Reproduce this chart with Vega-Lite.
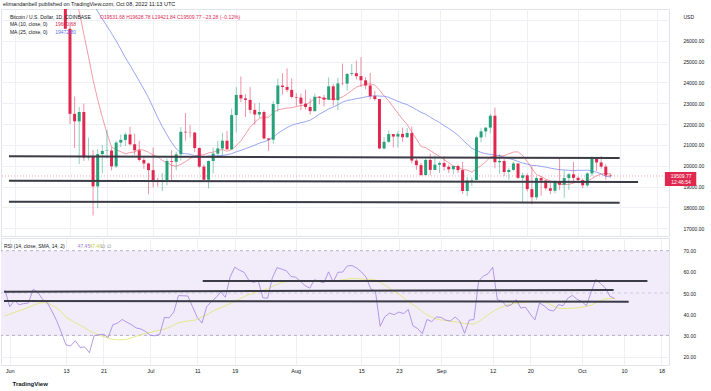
{
"$schema": "https://vega.github.io/schema/vega-lite/v6.json",
"padding": {"left": 0, "top": 1, "right": 0, "bottom": 0},
"background": "white",
"title": {"text": "elimandanbell published on TradingView.com, Oct 08, 2022 11:13 UTC", "anchor": "start", "frame": "bounds", "fontSize": 5.5, "fontWeight": "normal", "color": "#131722", "offset": 1.5, "dx": 3},
"spacing": 0,
"datasets": {
"candles": [
{"t":"2022-05-31","o":31720,"h":32400,"l":31200,"c":31800,"r":51.4,"rm":39.2},
{"t":"2022-06-01","o":31800,"h":31970,"l":29300,"c":29800,"r":43.5,"rm":40.0},
{"t":"2022-06-02","o":29800,"h":30640,"l":29580,"c":30440,"r":46.5,"rm":40.8},
{"t":"2022-06-03","o":30440,"h":30670,"l":29280,"c":29700,"r":44.5,"rm":41.6},
{"t":"2022-06-04","o":29700,"h":29950,"l":29480,"c":29860,"r":45.0,"rm":42.4},
{"t":"2022-06-05","o":29860,"h":30150,"l":29500,"c":29900,"r":45.3,"rm":43.2},
{"t":"2022-06-06","o":29900,"h":31750,"l":29880,"c":31370,"r":51.7,"rm":44.2},
{"t":"2022-06-07","o":31370,"h":31550,"l":29220,"c":31130,"r":50.5,"rm":45.0},
{"t":"2022-06-08","o":31130,"h":31330,"l":29850,"c":30200,"r":47.0,"rm":45.5},
{"t":"2022-06-09","o":30200,"h":30700,"l":29930,"c":30110,"r":45.5,"rm":45.3},
{"t":"2022-06-10","o":30110,"h":30380,"l":28880,"c":29080,"m10":30159,"r":41.5,"rm":44.3},
{"t":"2022-06-11","o":29080,"h":29450,"l":28100,"c":28420,"m10":30021,"r":37.0,"rm":43.0},
{"t":"2022-06-12","o":28420,"h":28560,"l":26560,"c":26570,"m10":29634,"r":31.5,"rm":41.2},
{"t":"2022-06-13","o":26570,"h":26900,"l":22000,"c":22490,"m10":28913,"m25":29200,"r":25.5,"rm":38.6},
{"t":"2022-06-14","o":22490,"h":23320,"l":20850,"c":22130,"m10":28140,"m25":28950,"r":25.0,"rm":37.3},
{"t":"2022-06-15","o":22130,"h":22820,"l":20080,"c":22580,"m10":27408,"m25":28700,"r":27.5,"rm":36.0},
{"t":"2022-06-16","o":22580,"h":22980,"l":20230,"c":20390,"m10":26310,"m25":28400,"r":24.3,"rm":34.8},
{"t":"2022-06-17","o":20390,"h":21350,"l":20250,"c":20470,"m10":25244,"m25":28100,"r":24.5,"rm":33.6},
{"t":"2022-06-18","o":20470,"h":20750,"l":17620,"c":19010,"m10":24125,"m25":27800,"r":21.8,"rm":32.2},
{"t":"2022-06-19","o":19010,"h":20800,"l":17960,"c":20560,"m10":23170,"m25":27400,"r":29.8,"rm":31.1},
{"t":"2022-06-20","o":20560,"h":21000,"l":19640,"c":20710,"m10":22333,"m25":27050,"r":30.3,"rm":30.2},
{"t":"2022-06-21","o":20710,"h":21720,"l":20350,"c":20730,"m10":21564,"m25":26700,"r":30.5,"rm":29.4},
{"t":"2022-06-22","o":20730,"h":20880,"l":19770,"c":19970,"m10":20904,"m25":26350,"r":29.0,"rm":28.7},
{"t":"2022-06-23","o":19970,"h":21200,"l":19900,"c":21110,"m10":20766,"m25":25990,"r":35.0,"rm":28.1},
{"t":"2022-06-24","o":21110,"h":21500,"l":20900,"c":21240,"m10":20677,"m25":25590,"r":35.8,"rm":27.9},
{"t":"2022-06-25","o":21240,"h":21600,"l":20950,"c":21500,"m10":20569,"m25":25179,"r":37.5,"rm":27.9},
{"t":"2022-06-26","o":21500,"h":21870,"l":20970,"c":21030,"m10":20633,"m25":24828,"r":36.2,"rm":28.2},
{"t":"2022-06-27","o":21030,"h":21540,"l":20520,"c":20740,"m10":20660,"m25":24440,"r":35.0,"rm":28.8},
{"t":"2022-06-28","o":20740,"h":21190,"l":20200,"c":20280,"m10":20787,"m25":24063,"r":33.5,"rm":29.6},
{"t":"2022-06-29","o":20280,"h":20440,"l":19850,"c":20110,"m10":20742,"m25":23673,"r":33.0,"rm":30.3},
{"t":"2022-06-30","o":20110,"h":20150,"l":18630,"c":19790,"m10":20650,"m25":23269,"r":31.8,"rm":31.0},
{"t":"2022-07-01","o":19790,"h":20880,"l":18970,"c":19300,"m10":20507,"m25":22786,"r":30.0,"rm":31.4},
{"t":"2022-07-02","o":19300,"h":19430,"l":19000,"c":19250,"m10":20435,"m25":22311,"r":29.8,"rm":32.0},
{"t":"2022-07-03","o":19250,"h":19650,"l":18790,"c":19310,"m10":20255,"m25":21875,"r":30.5,"rm":32.4},
{"t":"2022-07-04","o":19310,"h":20350,"l":19060,"c":20230,"m10":20154,"m25":21480,"r":38.5,"rm":33.0},
{"t":"2022-07-05","o":20230,"h":20740,"l":19310,"c":20190,"m10":20023,"m25":21124,"r":38.3,"rm":33.8},
{"t":"2022-07-06","o":20190,"h":20680,"l":19780,"c":20550,"m10":19975,"m25":20810,"r":41.0,"rm":34.8},
{"t":"2022-07-07","o":20550,"h":21850,"l":20250,"c":21630,"m10":20064,"m25":20612,"r":48.8,"rm":36.0},
{"t":"2022-07-08","o":21630,"h":22530,"l":21200,"c":21600,"m10":20196,"m25":20576,"r":48.7,"rm":36.4},
{"t":"2022-07-09","o":21600,"h":21960,"l":21360,"c":21590,"m10":20344,"m25":20555,"r":48.6,"rm":36.8},
{"t":"2022-07-10","o":21590,"h":21620,"l":20660,"c":20850,"m10":20450,"m25":20486,"r":43.5,"rm":37.0},
{"t":"2022-07-11","o":20850,"h":20880,"l":19900,"c":19960,"m10":20516,"m25":20468,"r":38.5,"rm":37.5},
{"t":"2022-07-12","o":19960,"h":20050,"l":19240,"c":19330,"m10":20524,"m25":20423,"r":35.8,"rm":38.8},
{"t":"2022-07-13","o":19330,"h":20250,"l":18910,"c":20230,"m10":20616,"m25":20472,"r":43.5,"rm":39.6},
{"t":"2022-07-14","o":20230,"h":20880,"l":19630,"c":20580,"m10":20651,"m25":20472,"r":46.0,"rm":41.0},
{"t":"2022-07-15","o":20580,"h":21200,"l":20400,"c":20830,"m10":20715,"m25":20477,"r":47.8,"rm":42.2},
{"t":"2022-07-16","o":20830,"h":21580,"l":20500,"c":21200,"m10":20780,"m25":20496,"r":50.5,"rm":43.0},
{"t":"2022-07-17","o":21200,"h":21670,"l":20770,"c":20790,"m10":20696,"m25":20529,"r":48.0,"rm":44.0},
{"t":"2022-07-18","o":20790,"h":22740,"l":20760,"c":22430,"m10":20779,"m25":20582,"r":57.5,"rm":45.0},
{"t":"2022-07-19","o":22430,"h":23780,"l":21600,"c":23400,"m10":20960,"m25":20668,"r":62.2,"rm":46.3},
{"t":"2022-07-20","o":23400,"h":24280,"l":23050,"c":23230,"m10":21198,"m25":20737,"r":60.8,"rm":47.2},
{"t":"2022-07-21","o":23230,"h":23430,"l":22340,"c":23160,"m10":21518,"m25":20822,"r":59.8,"rm":48.3},
{"t":"2022-07-22","o":23160,"h":23770,"l":22500,"c":22680,"m10":21853,"m25":20900,"r":56.0,"rm":49.2},
{"t":"2022-07-23","o":22680,"h":22990,"l":21970,"c":22460,"m10":22076,"m25":20987,"r":55.0,"rm":50.0},
{"t":"2022-07-24","o":22460,"h":23020,"l":22300,"c":22580,"m10":22276,"m25":21086,"r":55.8,"rm":50.8},
{"t":"2022-07-25","o":22580,"h":22670,"l":21260,"c":21310,"m10":22324,"m25":21147,"r":47.8,"rm":51.5},
{"t":"2022-07-26","o":21310,"h":21340,"l":20710,"c":21250,"m10":22329,"m25":21225,"r":47.5,"rm":52.0},
{"t":"2022-07-27","o":21250,"h":23100,"l":21050,"c":22960,"m10":22546,"m25":21373,"r":57.0,"rm":53.0},
{"t":"2022-07-28","o":22960,"h":24180,"l":22590,"c":23850,"m10":22688,"m25":21555,"r":62.0,"rm":54.0},
{"t":"2022-07-29","o":23850,"h":24440,"l":23410,"c":23780,"m10":22726,"m25":21697,"r":61.3,"rm":55.0},
{"t":"2022-07-30","o":23780,"h":24670,"l":23530,"c":23640,"m10":22767,"m25":21835,"r":60.5,"rm":55.3},
{"t":"2022-07-31","o":23640,"h":24190,"l":23240,"c":23300,"m10":22781,"m25":21945,"r":57.8,"rm":55.6},
{"t":"2022-08-01","o":23300,"h":23480,"l":22870,"c":23270,"m10":22840,"m25":22010,"r":57.5,"rm":56.0},
{"t":"2022-08-02","o":23270,"h":23460,"l":22670,"c":22980,"m10":22892,"m25":22066,"r":55.5,"rm":56.0},
{"t":"2022-08-03","o":22980,"h":23650,"l":22700,"c":22820,"m10":22916,"m25":22115,"r":53.5,"rm":55.9},
{"t":"2022-08-04","o":22820,"h":23220,"l":22450,"c":22620,"m10":23047,"m25":22186,"r":52.3,"rm":55.8},
{"t":"2022-08-05","o":22620,"h":23460,"l":22600,"c":23310,"m10":23253,"m25":22320,"r":56.3,"rm":55.7},
{"t":"2022-08-06","o":23310,"h":23350,"l":22950,"c":23270,"m10":23284,"m25":22477,"r":55.5,"rm":55.6},
{"t":"2022-08-07","o":23270,"h":23400,"l":22850,"c":23170,"m10":23216,"m25":22595,"r":54.8,"rm":55.5},
{"t":"2022-08-08","o":23170,"h":24240,"l":23150,"c":23810,"m10":23219,"m25":22724,"r":60.0,"rm":55.6},
{"t":"2022-08-09","o":23810,"h":23920,"l":22880,"c":23150,"m10":23170,"m25":22817,"r":55.2,"rm":55.7},
{"t":"2022-08-10","o":23150,"h":24220,"l":22670,"c":23950,"m10":23235,"m25":22927,"r":59.8,"rm":55.9},
{"t":"2022-08-11","o":23950,"h":24900,"l":23860,"c":23940,"m10":23302,"m25":23053,"r":59.9,"rm":56.2},
{"t":"2022-08-12","o":23940,"h":24450,"l":23600,"c":24400,"m10":23444,"m25":23132,"r":62.8,"rm":56.6},
{"t":"2022-08-13","o":24400,"h":24880,"l":24300,"c":24440,"m10":23606,"m25":23173,"r":63.0,"rm":56.8},
{"t":"2022-08-14","o":24440,"h":25050,"l":24140,"c":24300,"m10":23774,"m25":23216,"r":61.8,"rm":56.8},
{"t":"2022-08-15","o":24300,"h":25210,"l":23790,"c":24100,"m10":23853,"m25":23254,"r":60.0,"rm":56.6},
{"t":"2022-08-16","o":24100,"h":24250,"l":23680,"c":23850,"m10":23911,"m25":23300,"r":57.5,"rm":56.5},
{"t":"2022-08-17","o":23850,"h":24450,"l":23190,"c":23340,"m10":23928,"m25":23336,"r":52.0,"rm":56.5},
{"t":"2022-08-18","o":23340,"h":23600,"l":23120,"c":23200,"m10":23867,"m25":23360,"r":50.8,"rm":56.2},
{"t":"2022-08-19","o":23200,"h":23200,"l":20790,"c":20830,"m10":23635,"m25":23341,"r":34.3,"rm":55.0},
{"t":"2022-08-20","o":20830,"h":21360,"l":20780,"c":21150,"m10":23355,"m25":23337,"r":38.8,"rm":53.8},
{"t":"2022-08-21","o":21150,"h":21700,"l":21100,"c":21520,"m10":23113,"m25":23280,"r":40.5,"rm":52.4},
{"t":"2022-08-22","o":21520,"h":21520,"l":20880,"c":21400,"m10":22813,"m25":23182,"r":39.8,"rm":50.8},
{"t":"2022-08-23","o":21400,"h":21670,"l":20880,"c":21530,"m10":22522,"m25":23092,"r":41.0,"rm":49.5},
{"t":"2022-08-24","o":21530,"h":21830,"l":21150,"c":21370,"m10":22229,"m25":23001,"r":40.3,"rm":47.8},
{"t":"2022-08-25","o":21370,"h":21820,"l":21330,"c":21570,"m10":21976,"m25":22932,"r":42.2,"rm":46.0},
{"t":"2022-08-26","o":21570,"h":21880,"l":20110,"c":20250,"m10":21616,"m25":22811,"r":34.5,"rm":44.4},
{"t":"2022-08-27","o":20250,"h":20350,"l":19800,"c":20030,"m10":21285,"m25":22693,"r":33.2,"rm":43.0},
{"t":"2022-08-28","o":20030,"h":20140,"l":19540,"c":19550,"m10":20920,"m25":22562,"r":30.8,"rm":41.3},
{"t":"2022-08-29","o":19550,"h":20400,"l":19550,"c":20280,"m10":20865,"m25":22468,"r":37.5,"rm":39.6},
{"t":"2022-08-30","o":20280,"h":20580,"l":19550,"c":19800,"m10":20730,"m25":22328,"r":36.5,"rm":38.6},
{"t":"2022-08-31","o":19800,"h":20490,"l":19800,"c":20050,"m10":20583,"m25":22199,"r":38.7,"rm":37.8},
{"t":"2022-09-01","o":20050,"h":20200,"l":19650,"c":20130,"m10":20456,"m25":22078,"r":38.5,"rm":37.3},
{"t":"2022-09-02","o":20130,"h":20450,"l":19770,"c":19950,"m10":20298,"m25":21923,"r":37.2,"rm":37.0},
{"t":"2022-09-03","o":19950,"h":20050,"l":19650,"c":19830,"m10":20144,"m25":21790,"r":36.8,"rm":36.7},
{"t":"2022-09-04","o":19830,"h":20000,"l":19600,"c":19990,"m10":19986,"m25":21632,"r":38.7,"rm":36.4},
{"t":"2022-09-05","o":19990,"h":20060,"l":19640,"c":19790,"m10":19940,"m25":21466,"r":36.7,"rm":36.0},
{"t":"2022-09-06","o":19790,"h":20180,"l":18650,"c":18790,"m10":19816,"m25":21242,"r":31.0,"rm":35.6},
{"t":"2022-09-07","o":18790,"h":19460,"l":18540,"c":19290,"m10":19790,"m25":21036,"r":37.2,"rm":35.5},
{"t":"2022-09-08","o":19290,"h":19450,"l":19030,"c":19320,"m10":19694,"m25":20836,"r":37.5,"rm":35.3},
{"t":"2022-09-09","o":19320,"h":21440,"l":19300,"c":21360,"m10":19850,"m25":20727,"r":55.6,"rm":36.5},
{"t":"2022-09-10","o":21360,"h":21800,"l":21120,"c":21650,"m10":20010,"m25":20639,"r":58.0,"rm":38.0},
{"t":"2022-09-11","o":21650,"h":21840,"l":21370,"c":21830,"m10":20180,"m25":20578,"r":59.1,"rm":39.7},
{"t":"2022-09-12","o":21830,"h":22490,"l":21560,"c":22400,"m10":20425,"m25":20546,"r":62.2,"rm":41.2},
{"t":"2022-09-13","o":22400,"h":22790,"l":19880,"c":20170,"m10":20459,"m25":20520,"r":46.9,"rm":42.4},
{"t":"2022-09-14","o":20170,"h":20550,"l":19620,"c":20230,"m10":20483,"m25":20483,"r":46.1,"rm":43.5},
{"t":"2022-09-15","o":20230,"h":20330,"l":19500,"c":19700,"m10":20474,"m25":20410,"r":43.7,"rm":44.3},
{"t":"2022-09-16","o":19700,"h":19890,"l":19330,"c":19800,"m10":20575,"m25":20346,"r":44.5,"rm":44.8},
{"t":"2022-09-17","o":19800,"h":20180,"l":19760,"c":20110,"m10":20657,"m25":20290,"r":46.9,"rm":45.1},
{"t":"2022-09-18","o":20110,"h":20110,"l":19370,"c":19420,"m10":20667,"m25":20212,"r":42.9,"rm":45.4},
{"t":"2022-09-19","o":19420,"h":19680,"l":18250,"c":19540,"m10":20485,"m25":20130,"r":43.3,"rm":45.7},
{"t":"2022-09-20","o":19540,"h":19630,"l":18770,"c":18880,"m10":20208,"m25":20076,"r":40.1,"rm":46.0},
{"t":"2022-09-21","o":18880,"h":19960,"l":18150,"c":18490,"m10":19874,"m25":20014,"r":37.3,"rm":46.1},
{"t":"2022-09-22","o":18490,"h":19490,"l":18380,"c":19410,"m10":19575,"m25":20008,"r":45.3,"rm":46.2},
{"t":"2022-09-23","o":19410,"h":19500,"l":18560,"c":19290,"m10":19487,"m25":19969,"r":43.9,"rm":45.8},
{"t":"2022-09-24","o":19290,"h":19310,"l":18820,"c":18920,"m10":19356,"m25":19934,"r":42.0,"rm":45.0},
{"t":"2022-09-25","o":18920,"h":19180,"l":18640,"c":18800,"m10":19266,"m25":19884,"r":41.5,"rm":43.8},
{"t":"2022-09-26","o":18800,"h":19310,"l":18680,"c":19220,"m10":19208,"m25":19847,"r":44.5,"rm":42.9},
{"t":"2022-09-27","o":19220,"h":20380,"l":18830,"c":19090,"m10":19106,"m25":19813,"r":44.0,"rm":42.7},
{"t":"2022-09-28","o":19090,"h":19790,"l":18470,"c":19410,"m10":19105,"m25":19796,"r":47.5,"rm":42.7},
{"t":"2022-09-29","o":19410,"h":19650,"l":18840,"c":19590,"m10":19110,"m25":19780,"r":48.9,"rm":42.8},
{"t":"2022-09-30","o":19590,"h":20180,"l":19170,"c":19420,"m10":19164,"m25":19765,"r":47.0,"rm":43.0},
{"t":"2022-10-01","o":19420,"h":19480,"l":19170,"c":19310,"m10":19246,"m25":19786,"r":46.0,"rm":43.3},
{"t":"2022-10-02","o":19310,"h":19390,"l":18920,"c":19060,"m10":19211,"m25":19777,"r":44.0,"rm":43.7},
{"t":"2022-10-03","o":19060,"h":19700,"l":18970,"c":19630,"m10":19245,"m25":19789,"r":50.5,"rm":44.2},
{"t":"2022-10-04","o":19630,"h":20460,"l":19500,"c":20340,"m10":19387,"m25":19748,"r":56.5,"rm":45.4},
{"t":"2022-10-05","o":20340,"h":20370,"l":19750,"c":20160,"m10":19522,"m25":19688,"r":54.5,"rm":46.4},
{"t":"2022-10-06","o":20160,"h":20460,"l":19860,"c":19960,"m10":19596,"m25":19614,"r":52.5,"rm":47.2},
{"t":"2022-10-07","o":19960,"h":20070,"l":19330,"c":19530,"m10":19640,"m25":19485,"r":48.5,"rm":47.4},
{"t":"2022-10-08","o":19531.68,"h":19628.78,"l":19421.84,"c":19509.77,"m10":19600.68,"m25":19472.8,"r":47.45,"rm":47.46}
],
"plines": [
{"t1":"2022-05-30T19:00:00Z","p1":20456,"t2":"2022-10-10T00:00:00Z","p2":20370},
{"t1":"2022-05-30T19:00:00Z","p1":19285,"t2":"2022-10-14T00:00:00Z","p2":19222},
{"t1":"2022-05-30T19:00:00Z","p1":18277,"t2":"2022-10-10T00:00:00Z","p2":18230}
],
"rlines": [
{"t1":"2022-05-30T19:00:00Z","r1":50.6,"t2":"2022-10-07T19:00:00Z","r2":51.4},
{"t1":"2022-05-30T19:00:00Z","r1":46.2,"t2":"2022-10-11T00:00:00Z","r2":45.9},
{"t1":"2022-07-12T04:00:00Z","r1":55.7,"t2":"2022-10-15T00:00:00Z","r2":55.7}
]
},
"vconcat": [
{
"width": 668, "height": 227,
"layer": [
{"data": {"name": "candles"},
 "mark": {"type": "line", "color": "#f3828f", "strokeWidth": 0.8, "clip": true},
 "encoding": {
  "x": {"field": "t", "type": "temporal", "scale": {"type": "utc", "domain": [{"year":2022,"month":5,"date":30,"hours":3,"minutes":36,"utc":true},{"year":2022,"month":10,"date":19,"hours":14,"minutes":24,"utc":true}]},
   "axis": {"values": [{"year":2022,"month":6,"date":1,"utc":true},{"year":2022,"month":6,"date":13,"utc":true},{"year":2022,"month":6,"date":21,"utc":true},{"year":2022,"month":7,"date":1,"utc":true},{"year":2022,"month":7,"date":11,"utc":true},{"year":2022,"month":7,"date":19,"utc":true},{"year":2022,"month":8,"date":1,"utc":true},{"year":2022,"month":8,"date":15,"utc":true},{"year":2022,"month":8,"date":23,"utc":true},{"year":2022,"month":9,"date":1,"utc":true},{"year":2022,"month":9,"date":12,"utc":true},{"year":2022,"month":9,"date":20,"utc":true},{"year":2022,"month":10,"date":1,"utc":true},{"year":2022,"month":10,"date":10,"utc":true},{"year":2022,"month":10,"date":18,"utc":true}],
    "grid": true, "gridColor": "#eef0f5", "labels": false, "ticks": false, "domain": false, "title": null, "minExtent": 0, "maxExtent": 0}},
  "y": {"field": "m10", "type": "quantitative", "scale": {"domain": [16630, 27520], "nice": false, "zero": false},
   "axis": {"orient": "right", "tickCount": 11, "labelExpr": "datum.value > 26500 ? '' : format(datum.value, '.2f')", "labelOverlap": false, "labelBound": false, "labelFlush": false, "grid": true, "gridColor": "#eef0f5", "ticks": false, "domain": false, "labelPadding": 14, "labelFontSize": 5, "labelColor": "#131722",
    "title": "USD", "titleAngle": 0, "titleAlign": "left", "titleBaseline": "middle", "titleX": 14, "titleY": 7, "titleFontSize": 5, "titleFontWeight": "normal", "titleColor": "#131722"}}
 }},
{"data": {"values": [{}]},
 "mark": {"type": "rule", "color": "#f2a3b5", "strokeDash": [1, 2], "strokeWidth": 1},
 "encoding": {"y": {"datum": 19509.77, "type": "quantitative", "scale": {"domain": [16630, 27520], "nice": false, "zero": false}}}},
{"data": {"name": "candles"},
 "mark": {"type": "line", "color": "#7f8ff0", "strokeWidth": 0.8, "clip": true},
 "encoding": {"x": {"field": "t", "type": "temporal"}, "y": {"field": "m25", "type": "quantitative", "scale": {"domain": [16630, 27520], "nice": false, "zero": false}}}},
{"data": {"name": "candles"},
 "mark": {"type": "rule", "strokeWidth": 1, "opacity": 0.5, "clip": true},
 "encoding": {"x": {"field": "t", "type": "temporal"},
  "y": {"field": "l", "type": "quantitative", "scale": {"domain": [16630, 27520], "nice": false, "zero": false}},
  "y2": {"field": "h"},
  "color": {"condition": {"test": "datum.c >= datum.o", "value": "#26a17a"}, "value": "#e0284f"}}},
{"data": {"name": "candles"},
 "mark": {"type": "bar", "width": 3, "clip": true},
 "encoding": {"x": {"field": "t", "type": "temporal"},
  "y": {"field": "o", "type": "quantitative", "scale": {"domain": [16630, 27520], "nice": false, "zero": false}},
  "y2": {"field": "c"},
  "color": {"condition": {"test": "datum.c >= datum.o", "value": "#26a17a"}, "value": "#e0284f"}}},
{"data": {"name": "plines"},
 "mark": {"type": "rule", "color": "#3b3b46", "strokeWidth": 2},
 "encoding": {"x": {"field": "t1", "type": "temporal"}, "x2": {"field": "t2"},
  "y": {"field": "p1", "type": "quantitative", "scale": {"domain": [16630, 27520], "nice": false, "zero": false}}, "y2": {"field": "p2"}}},
{"data": {"values": [{}]},
 "mark": {"type": "text", "align": "left", "baseline": "middle", "fontSize": 5, "color": "#131722"},
 "encoding": {"x": {"datum": {"year":2022,"month":5,"date":31,"utc":true}, "type": "temporal"}, "y": {"datum": 27155, "type": "quantitative"}, "text": {"value": "Bitcoin / U.S. Dollar, 1D, COINBASE"}}},
{"data": {"values": [{}]},
 "mark": {"type": "text", "align": "left", "baseline": "middle", "fontSize": 5, "color": "#e0284f"},
 "encoding": {"x": {"datum": {"year":2022,"month":6,"date":19,"hours":12,"utc":true}, "type": "temporal"}, "y": {"datum": 27155, "type": "quantitative"}, "text": {"value": "O19531.68  H19628.78  L19421.84  C19509.77  −23.28 (−0.12%)"}}},
{"data": {"values": [{}]},
 "mark": {"type": "text", "align": "left", "baseline": "middle", "fontSize": 5, "color": "#131722"},
 "encoding": {"x": {"datum": {"year":2022,"month":5,"date":31,"utc":true}, "type": "temporal"}, "y": {"datum": 26790, "type": "quantitative"}, "text": {"value": "MA (10, close, 0)"}}},
{"data": {"values": [{}]},
 "mark": {"type": "text", "align": "left", "baseline": "middle", "fontSize": 5, "color": "#e0284f"},
 "encoding": {"x": {"datum": {"year":2022,"month":6,"date":9,"hours":19,"utc":true}, "type": "temporal"}, "y": {"datum": 26790, "type": "quantitative"}, "text": {"value": "19600.68"}}},
{"data": {"values": [{}]},
 "mark": {"type": "text", "align": "left", "baseline": "middle", "fontSize": 5, "color": "#131722"},
 "encoding": {"x": {"datum": {"year":2022,"month":5,"date":31,"utc":true}, "type": "temporal"}, "y": {"datum": 26406, "type": "quantitative"}, "text": {"value": "MA (25, close, 0)"}}},
{"data": {"values": [{}]},
 "mark": {"type": "text", "align": "left", "baseline": "middle", "fontSize": 5, "color": "#5b6ff0"},
 "encoding": {"x": {"datum": {"year":2022,"month":6,"date":9,"hours":19,"utc":true}, "type": "temporal"}, "y": {"datum": 26406, "type": "quantitative"}, "text": {"value": "19472.80"}}},
{"data": {"values": [{}]},
 "mark": {"type": "rect", "color": "#e0284f", "clip": false},
 "encoding": {"x": {"datum": {"year":2022,"month":10,"date":19,"hours":19,"utc":true}, "type": "temporal"}, "x2": {"datum": {"year":2022,"month":10,"date":26,"hours":14,"utc":true}},
  "y": {"datum": 19702, "type": "quantitative"}, "y2": {"datum": 19030}}},
{"data": {"values": [{}]},
 "mark": {"type": "text", "align": "center", "baseline": "middle", "fontSize": 5, "color": "white", "clip": false},
 "encoding": {"x": {"datum": {"year":2022,"month":10,"date":23,"hours":7,"utc":true}, "type": "temporal"}, "y": {"datum": 19520, "type": "quantitative"}, "text": {"value": "19509.77"}}},
{"data": {"values": [{}]},
 "mark": {"type": "text", "align": "center", "baseline": "middle", "fontSize": 5, "color": "white", "clip": false},
 "encoding": {"x": {"datum": {"year":2022,"month":10,"date":23,"hours":7,"utc":true}, "type": "temporal"}, "y": {"datum": 19210, "type": "quantitative"}, "text": {"value": "12:46:54"}}}
]
},
{
"width": 668, "height": 127,
"title": {"text": "TradingView", "orient": "bottom", "anchor": "start", "fontSize": 6, "fontWeight": "bold", "color": "#131722", "offset": 7, "dx": 12},
"layer": [
{"data": {"values": [{}]},
 "mark": {"type": "rect", "color": "#f1ebfa"},
 "encoding": {
  "x": {"datum": {"year":2022,"month":5,"date":30,"hours":3,"minutes":36,"utc":true}, "type": "temporal", "scale": {"type": "utc", "domain": [{"year":2022,"month":5,"date":30,"hours":3,"minutes":36,"utc":true},{"year":2022,"month":10,"date":19,"hours":14,"minutes":24,"utc":true}]},
   "axis": {"values": [{"year":2022,"month":6,"date":1,"utc":true},{"year":2022,"month":6,"date":13,"utc":true},{"year":2022,"month":6,"date":21,"utc":true},{"year":2022,"month":7,"date":1,"utc":true},{"year":2022,"month":7,"date":11,"utc":true},{"year":2022,"month":7,"date":19,"utc":true},{"year":2022,"month":8,"date":1,"utc":true},{"year":2022,"month":8,"date":15,"utc":true},{"year":2022,"month":8,"date":23,"utc":true},{"year":2022,"month":9,"date":1,"utc":true},{"year":2022,"month":9,"date":12,"utc":true},{"year":2022,"month":9,"date":20,"utc":true},{"year":2022,"month":10,"date":1,"utc":true},{"year":2022,"month":10,"date":10,"utc":true},{"year":2022,"month":10,"date":18,"utc":true}],
    "labelExpr": "utcdate(datum.value) == 1 ? utcFormat(datum.value, '%b') : utcFormat(datum.value, '%-d')",
    "grid": true, "gridColor": "#eef0f5", "ticks": false, "domain": false, "title": null, "labelFontSize": 5.5, "labelColor": "#131722", "labelPadding": 3}},
  "x2": {"datum": {"year":2022,"month":10,"date":19,"hours":14,"minutes":24,"utc":true}},
  "y": {"datum": 30, "type": "quantitative", "scale": {"domain": [16, 76], "nice": false, "zero": false},
   "axis": {"orient": "right", "tickCount": 6, "labelExpr": "format(datum.value, '.2f')", "labelOverlap": false, "labelBound": false, "labelFlush": false, "grid": true, "gridColor": "#eef0f5", "ticks": false, "domain": false, "labelPadding": 14, "labelFontSize": 5, "labelColor": "#131722", "title": null}},
  "y2": {"datum": 70}
 }},
{"data": {"values": [{"v": 70}, {"v": 30}]},
 "mark": {"type": "rule", "color": "#a79fbd", "strokeDash": [3, 3], "strokeWidth": 0.8},
 "encoding": {"y": {"field": "v", "type": "quantitative", "scale": {"domain": [16, 76], "nice": false, "zero": false}}}},
{"data": {"values": [{"v": 50}]},
 "mark": {"type": "rule", "color": "#cbc3db", "strokeDash": [3, 3], "strokeWidth": 0.8},
 "encoding": {"y": {"field": "v", "type": "quantitative", "scale": {"domain": [16, 76], "nice": false, "zero": false}}}},
{"data": {"name": "candles"},
 "mark": {"type": "line", "color": "#e4e67c", "strokeWidth": 0.9, "clip": true},
 "encoding": {"x": {"field": "t", "type": "temporal"}, "y": {"field": "rm", "type": "quantitative", "scale": {"domain": [16, 76], "nice": false, "zero": false}}}},
{"data": {"name": "candles"},
 "mark": {"type": "line", "color": "#a283e3", "strokeWidth": 0.8, "clip": true},
 "encoding": {"x": {"field": "t", "type": "temporal"}, "y": {"field": "r", "type": "quantitative", "scale": {"domain": [16, 76], "nice": false, "zero": false}}}},
{"data": {"name": "rlines"},
 "mark": {"type": "rule", "color": "#3b3b46", "strokeWidth": 2},
 "encoding": {"x": {"field": "t1", "type": "temporal"}, "x2": {"field": "t2"},
  "y": {"field": "r1", "type": "quantitative", "scale": {"domain": [16, 76], "nice": false, "zero": false}}, "y2": {"field": "r2"}}},
{"data": {"values": [{}]},
 "mark": {"type": "text", "align": "left", "baseline": "middle", "fontSize": 5, "color": "#131722"},
 "encoding": {"x": {"datum": {"year":2022,"month":5,"date":30,"hours":19,"utc":true}, "type": "temporal"}, "y": {"datum": 72.2, "type": "quantitative"}, "text": {"value": "RSI (14, close, SMA, 14, 2)"}}},
{"data": {"values": [{}]},
 "mark": {"type": "text", "align": "left", "baseline": "middle", "fontSize": 5, "color": "#9c7ce0"},
 "encoding": {"x": {"datum": {"year":2022,"month":6,"date":15,"hours":12,"utc":true}, "type": "temporal"}, "y": {"datum": 72.2, "type": "quantitative"}, "text": {"value": "47.45"}}},
{"data": {"values": [{}]},
 "mark": {"type": "text", "align": "left", "baseline": "middle", "fontSize": 5, "color": "#c8c850"},
 "encoding": {"x": {"datum": {"year":2022,"month":6,"date":18,"hours":0,"utc":true}, "type": "temporal"}, "y": {"datum": 72.2, "type": "quantitative"}, "text": {"value": "47.46"}}},
{"data": {"values": [{}]},
 "mark": {"type": "text", "align": "left", "baseline": "middle", "fontSize": 5, "color": "#787b86"},
 "encoding": {"x": {"datum": {"year":2022,"month":6,"date":20,"hours":12,"utc":true}, "type": "temporal"}, "y": {"datum": 72.2, "type": "quantitative"}, "text": {"value": "∅  ∅"}}}
]
}
],
"config": {"font": "Liberation Sans", "view": {"stroke": "#e0e3eb"}, "axis": {"labelFont": "Liberation Sans", "titleFont": "Liberation Sans", "labelOverlap": false}, "title": {"font": "Liberation Sans"}}
}
